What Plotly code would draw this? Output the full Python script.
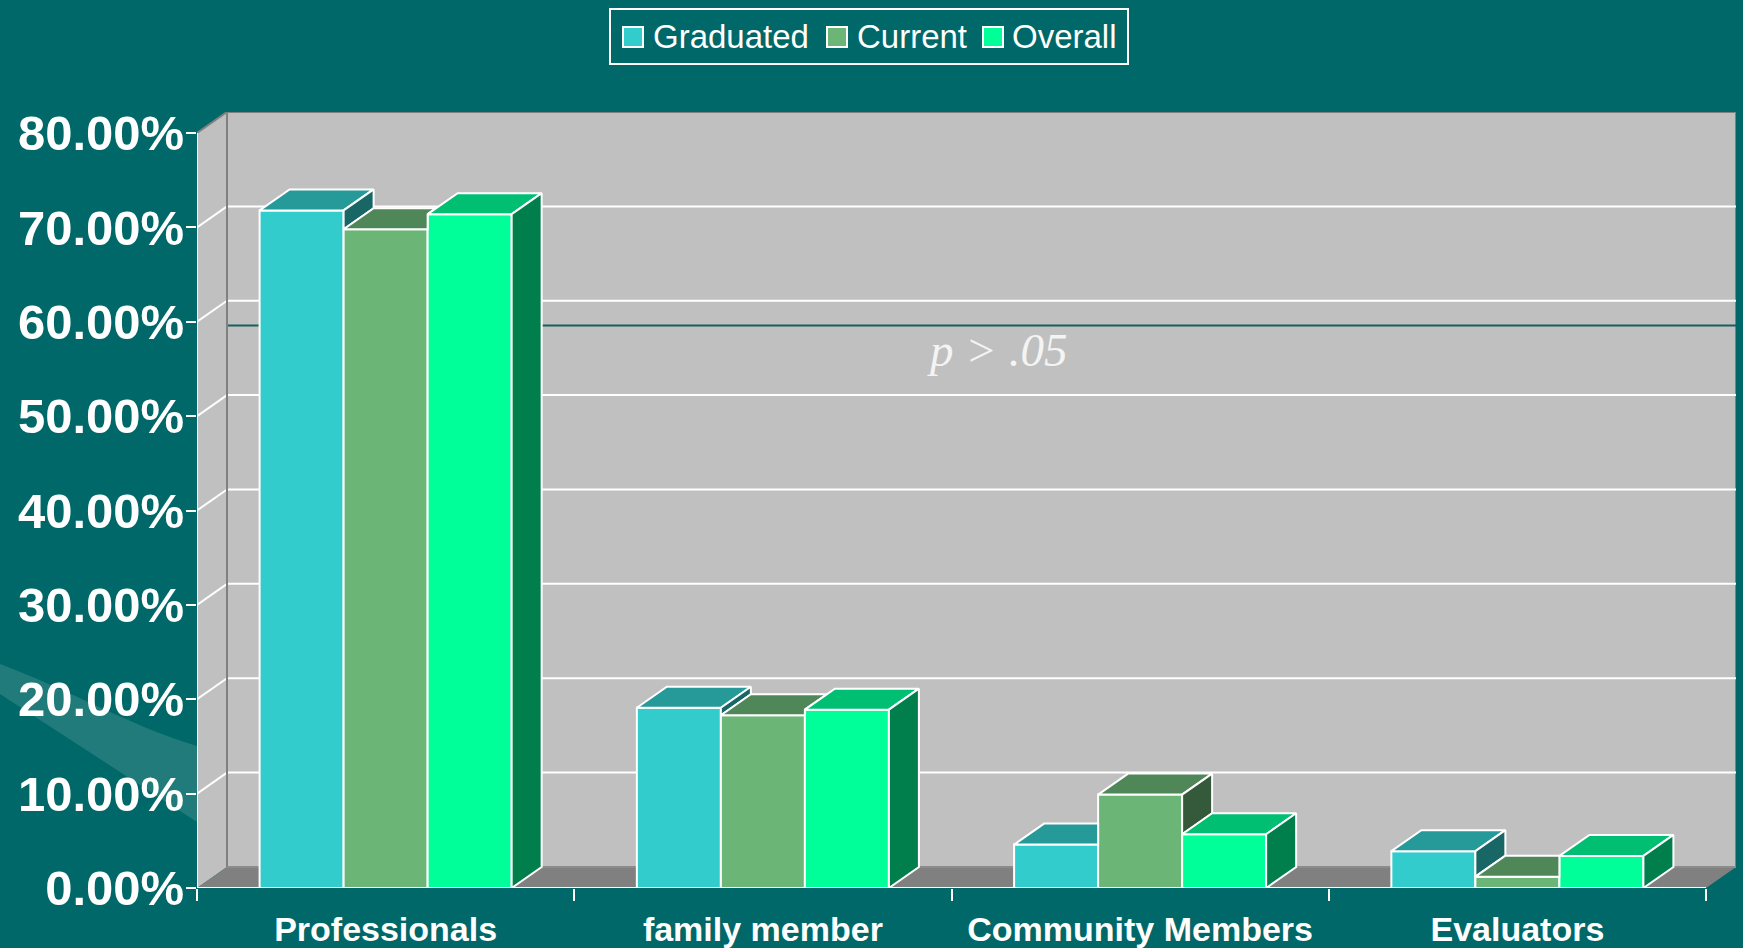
import plotly.graph_objects as go

# ---------------- data ----------------
categories = ["Professionals", "family member", "Community Members", "Evaluators"]
series_names = ["Graduated", "Current", "Overall"]
graduated = [71.8, 19.1, 4.6, 3.9]
current = [69.8, 18.3, 9.9, 1.2]
overall = [71.4, 18.9, 5.7, 3.4]
y_ticks = [0, 10, 20, 30, 40, 50, 60, 70, 80]
y_tick_labels = ["%.2f%%" % v for v in y_ticks]
annotation_text = "<i>p &gt; .05</i>"
annotation_level = 59.6   # level of the drawn reference line (in % on the front scale)

# ---------------- styles / geometry ----------------
W, H = 1743, 948
ML, MR, MT, MB = 197, 7, 112, 60
PW, PH = W - ML - MR, H - MT - MB
DEPTH_X_PX, DEPTH_Y_PX = 30, 21
n_cat = len(categories)
DX = n_cat * DEPTH_X_PX / (PW - DEPTH_X_PX)          # depth offset in x units
DY = y_ticks[-1] * DEPTH_Y_PX / (PH - DEPTH_Y_PX)     # depth offset in y units
BAR_W = 0.2227
X0, X1 = -0.5, n_cat - 0.5

front_colors = ["#33CCCC", "#6BB577", "#00FF99"]
BG = "#006868"
WALL = "#C0C0C0"
FLOOR = "#808080"
EDGE = "#808080"
FONT = "Liberation Sans"


def shade(hexc, f):
    h = hexc.lstrip("#")
    r, g, b = (int(h[i:i + 2], 16) for i in (0, 2, 4))
    return "#%02X%02X%02X" % (int(r * f), int(g * f), int(b * f))


def pp(px, py):
    """pixel -> paper coordinates (decorations only)"""
    return (px - ML) / PW, (H - MB - py) / PH


values = [graduated, current, overall]
fig = go.Figure()

# front faces as bars
for k, (name, vals) in enumerate(zip(series_names, values)):
    fig.add_trace(go.Bar(
        x=[i + (k - 1) * BAR_W for i in range(n_cat)], y=vals, width=BAR_W,
        name=name, marker=dict(color=front_colors[k], line=dict(color="white", width=2)),
        hoverinfo="skip", showlegend=False))


def poly(xs, ys, color):
    fig.add_trace(go.Scatter(
        x=list(xs) + [xs[0]], y=list(ys) + [ys[0]], mode="lines", fill="toself",
        fillcolor=color, line=dict(color="white", width=2), hoverinfo="skip",
        showlegend=False))


# tops and sides (occlusion clipped by neighbour to the right)
for i in range(n_cat):
    for k in range(3):
        a = values[k][i]
        b = values[k + 1][i] if k < 2 else 0.0
        xl = i + (k - 1) * BAR_W - BAR_W / 2
        xr = xl + BAR_W
        c = min(max(b, a), a + DY)
        xc = xr + DX * (a + DY - c) / DY
        poly([xl, xr, xr, xc, xl + DX], [a, a, c, a + DY, a + DY], shade(front_colors[k], 0.75))
        if a > b:
            poly([xr, xr, xr + DX, xr + DX], [b, a, a + DY, b + DY], shade(front_colors[k], 0.5))

shapes = []
# background swoosh
p1 = pp(0, 664); p2 = pp(70, 690); p3 = pp(130, 726); p4 = pp(197, 746)
p5 = pp(197, 822); p6 = pp(0, 694)
shapes.append(dict(type="path", xref="paper", yref="paper", layer="below",
                   path="M %f,%f C %f,%f %f,%f %f,%f L %f,%f L %f,%f Z" % (
                       p1 + p2 + p3 + p4 + p5 + p6),
                   fillcolor="rgba(255,255,255,0.13)", line=dict(width=0)))
# back wall
shapes.append(dict(type="rect", layer="below", x0=X0 + DX, x1=X1 + DX, y0=DY, y1=y_ticks[-1] + DY,
                   fillcolor=WALL, line=dict(color=EDGE, width=2)))
# left wall
shapes.append(dict(type="path", layer="below",
                   path="M %f,%f L %f,%f L %f,%f L %f,%f Z" % (
                       X0, 0, X0, y_ticks[-1], X0 + DX, y_ticks[-1] + DY, X0 + DX, DY),
                   fillcolor=WALL, line=dict(width=0)))
# floor
shapes.append(dict(type="path", layer="below",
                   path="M %f,%f L %f,%f L %f,%f L %f,%f Z" % (
                       X0, 0, X1, 0, X1 + DX, DY, X0 + DX, DY),
                   fillcolor=FLOOR, line=dict(width=0)))
# gridlines
for v in y_ticks[1:-1]:
    shapes.append(dict(type="line", layer="below", x0=X0, y0=v, x1=X0 + DX, y1=v + DY,
                       line=dict(color="white", width=2)))
    shapes.append(dict(type="line", layer="below", x0=X0 + DX, y0=v + DY, x1=X1 + DX, y1=v + DY,
                       line=dict(color="white", width=2)))
# reference line drawn on back wall
shapes.append(dict(type="line", layer="below", x0=X0 + DX, y0=annotation_level, x1=X1 + DX,
                   y1=annotation_level, line=dict(color="#14625F", width=2)))
# wall edges
shapes.append(dict(type="line", layer="below", x0=X0 + DX, y0=DY, x1=X0 + DX, y1=y_ticks[-1] + DY,
                   line=dict(color=EDGE, width=2)))
shapes.append(dict(type="line", layer="below", x0=X0, y0=y_ticks[-1], x1=X0 + DX, y1=y_ticks[-1] + DY,
                   line=dict(color=EDGE, width=2)))
shapes.append(dict(type="line", layer="below", x0=X0 + DX, y0=DY, x1=X1 + DX, y1=DY,
                   line=dict(color="#8C8C8C", width=2)))
# front edges
shapes.append(dict(type="line", layer="above", x0=X0, y0=0, x1=X1, y1=0,
                   line=dict(color="white", width=2)))
shapes.append(dict(type="line", layer="above", x0=X0, y0=0, x1=X0, y1=y_ticks[-1],
                   line=dict(color="white", width=2)))

# custom legend
annotations = []
bx0, by0 = pp(610, 9); bx1, by1 = pp(1128, 64)
shapes.append(dict(type="rect", xref="paper", yref="paper", x0=bx0, y0=by0, x1=bx1, y1=by1,
                   line=dict(color="white", width=2), fillcolor="rgba(0,0,0,0)"))
legend_sq_x = [623, 827, 983]
legend_tx_x = [651, 855, 1010]
for k, name in enumerate(series_names):
    sx0, sy0 = pp(legend_sq_x[k], 27); sx1, sy1 = pp(legend_sq_x[k] + 20, 47)
    shapes.append(dict(type="rect", xref="paper", yref="paper", x0=sx0, y0=sy0, x1=sx1, y1=sy1,
                       line=dict(color="white", width=2), fillcolor=front_colors[k]))
    tx, ty = pp(legend_tx_x[k], 37)
    annotations.append(dict(xref="paper", yref="paper", x=tx, y=ty, xanchor="left", yanchor="middle",
                            text=name, showarrow=False,
                            font=dict(family=FONT, size=33, color="white")))

annotations.append(dict(x=1.62, y=57.0, xref="x", yref="y", text=annotation_text, showarrow=False,
                        font=dict(family="Liberation Serif", size=47, color="#F4F4F4")))

fig.update_layout(
    width=W, height=H, margin=dict(l=ML, r=MR, t=MT, b=MB, pad=0, autoexpand=False),
    paper_bgcolor=BG, plot_bgcolor="rgba(0,0,0,0)", barmode="overlay", showlegend=False,
    shapes=shapes, annotations=annotations,
    xaxis=dict(range=[X0, X1 + DX], tickmode="array", tickvals=list(range(n_cat)), ticktext=categories,
               ticks="", showgrid=False, zeroline=False, showline=False, fixedrange=True,
               automargin=False, ticklabelstandoff=18,
               tickfont=dict(family=FONT, size=34, color="white", weight="bold"),
               minor=dict(tickmode="array", tickvals=[X0 + j for j in range(n_cat + 1)],
                          ticks="outside", ticklen=12, tickwidth=2, tickcolor="white", showgrid=False)),
    yaxis=dict(range=[0, y_ticks[-1] + DY], tickmode="array", tickvals=y_ticks, ticktext=y_tick_labels,
               ticks="outside", ticklen=10, tickwidth=2, tickcolor="white",
               showgrid=False, zeroline=False, showline=False, fixedrange=True,
               automargin=False, ticklabelstandoff=-8,
               tickfont=dict(family=FONT, size=49, color="white", weight="bold")),
)

fig.write_html("out.html", config={"displayModeBar": False},
               post_script="document.body.style.margin='0px';document.body.style.overflow='hidden';")
